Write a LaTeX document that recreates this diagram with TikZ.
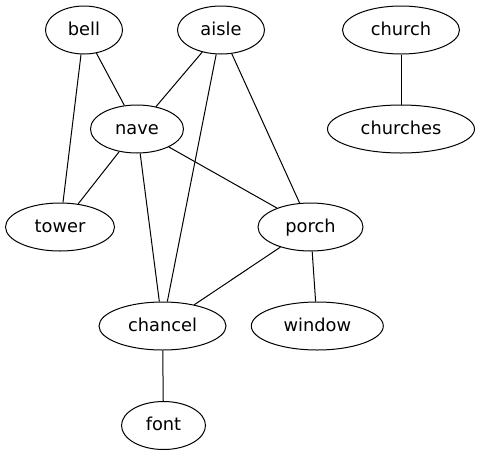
\documentclass[tikz,border=0pt]{standalone}
\usepackage{fontspec}
\setmainfont{DejaVu Sans}
\usetikzlibrary{shapes.geometric}
\begin{document}
\begin{tikzpicture}[x=1pt,y=-1pt,
  gnode/.style={draw,ellipse,line width=1pt,inner sep=0pt,minimum height=48pt,text height=13pt,text depth=3pt,font=\fontsize{17.8}{20}\selectfont},
  gedge/.style={line width=1pt}]
\useasboundingbox (0,0) rectangle (480,456);
\node[gnode,minimum width=77pt] (bell) at (84,30) {bell};
\node[gnode,minimum width=87pt] (aisle) at (221,30) {aisle};
\node[gnode,minimum width=117pt] (church) at (401,30) {church};
\node[gnode,minimum width=93pt] (nave) at (137,129) {nave};
\node[gnode,minimum width=147pt] (churches) at (401,129) {churches};
\node[gnode,minimum width=109pt] (tower) at (60,227) {tower};
\node[gnode,minimum width=105pt] (porch) at (310.5,227) {porch};
\node[gnode,minimum width=127pt] (chancel) at (162.5,326) {chancel};
\node[gnode,minimum width=132pt] (window) at (317.3,326) {window};
\node[gnode,minimum width=84pt] (font) at (163.5,425.5) {font};
\draw[gedge] (bell) -- (nave);
\draw[gedge] (bell) -- (tower);
\draw[gedge] (aisle) -- (nave);
\draw[gedge] (aisle) -- (chancel);
\draw[gedge] (aisle) -- (porch);
\draw[gedge] (nave) -- (tower);
\draw[gedge] (nave) -- (chancel);
\draw[gedge] (nave) -- (porch);
\draw[gedge] (porch) -- (chancel);
\draw[gedge] (porch) -- (window);
\draw[gedge] (chancel) -- (font);
\draw[gedge] (church) -- (churches);
\end{tikzpicture}
\end{document}
